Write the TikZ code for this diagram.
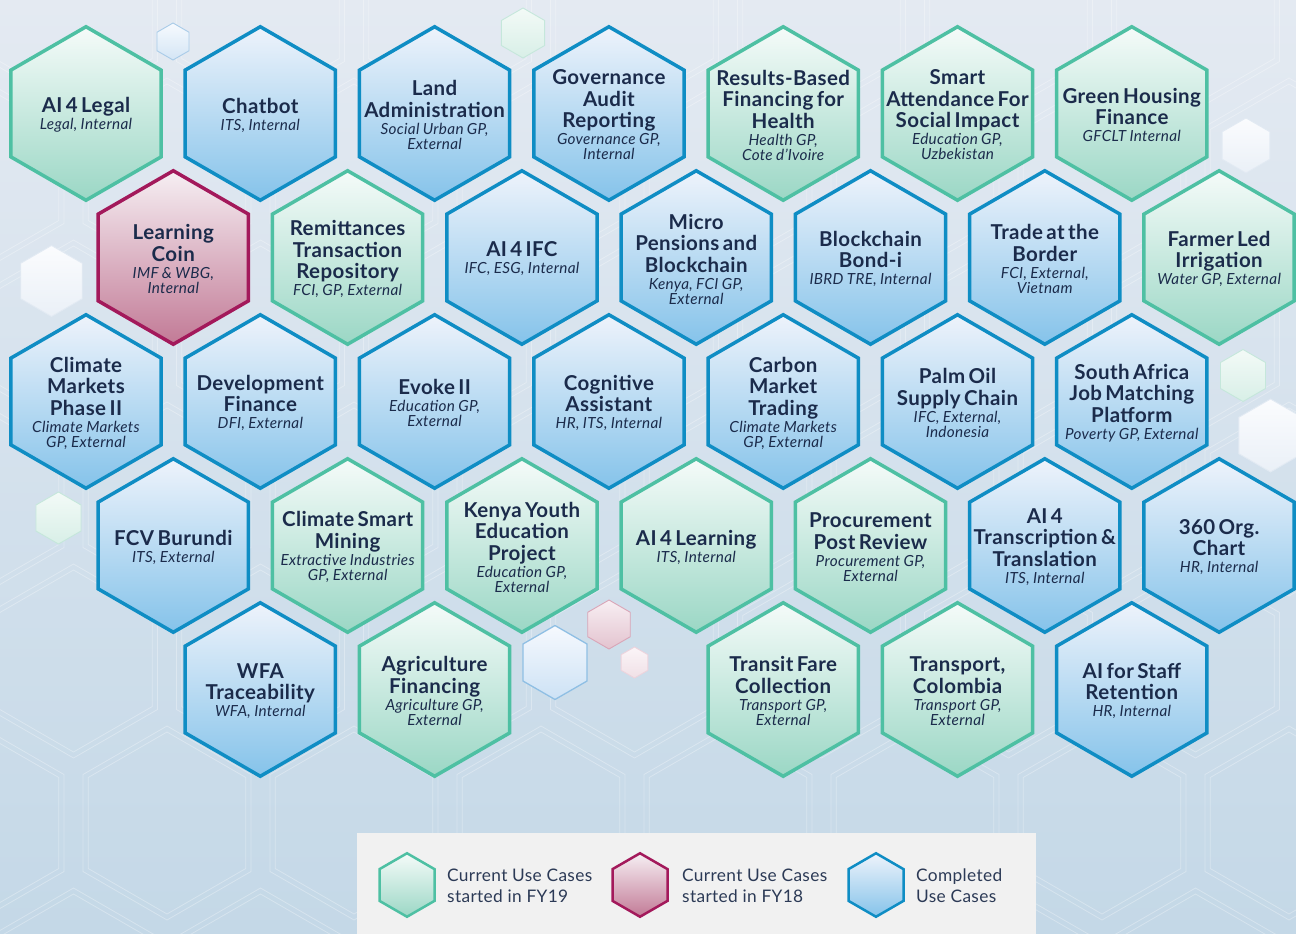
\documentclass[tikz,border=0pt]{standalone}
\usepackage{fontspec}
\setmainfont{Lato}[LetterSpace=2]
\usetikzlibrary{shapes.geometric}
\definecolor{bgtop}{HTML}{E4EAF2}
\definecolor{bgbot}{HTML}{C4D8E7}
\definecolor{grnB}{HTML}{4EC0A3}
\definecolor{grnT}{HTML}{F5FBF9}
\definecolor{grnD}{HTML}{9BD7C5}
\definecolor{bluB}{HTML}{0F8DC4}
\definecolor{bluT}{HTML}{EEF3FB}
\definecolor{bluD}{HTML}{85C3EA}
\definecolor{redB}{HTML}{A3195B}
\definecolor{redT}{HTML}{F6EFF3}
\definecolor{redD}{HTML}{C27A96}
\definecolor{txtc}{HTML}{1B2B4B}
\definecolor{legtxt}{HTML}{2C3A56}
\definecolor{legbg}{HTML}{F1F1F1}
% decorative colours
\definecolor{dbB}{HTML}{A8CBE8}\definecolor{dbT}{HTML}{F7FAFE}\definecolor{dbD}{HTML}{D3E5F5}
\definecolor{dgB}{HTML}{C5E7DB}\definecolor{dgT}{HTML}{F3FAF7}\definecolor{dgD}{HTML}{D8EFE7}
\definecolor{dwB}{HTML}{E2EAF3}\definecolor{dwT}{HTML}{FBFCFE}\definecolor{dwD}{HTML}{EAF0F7}
\definecolor{dpB}{HTML}{D9A5B7}\definecolor{dpT}{HTML}{F8EFF3}\definecolor{dpD}{HTML}{E3C3CF}
\definecolor{dlB}{HTML}{EDD3DC}\definecolor{dlT}{HTML}{FBF5F8}\definecolor{dlD}{HTML}{F0E0E6}
\definecolor{dkB}{HTML}{8FBFE4}\definecolor{dkT}{HTML}{F6F9FE}\definecolor{dkD}{HTML}{CDE2F5}
\newcommand\TtlFont{\fontsize{20.5}{21.5}\selectfont\bfseries}
\newcommand\SubFont{\fontsize{15.3}{15}\selectfont\itshape}
\tikzset{
  hexbase/.style={regular polygon, regular polygon sides=6, shape border rotate=30, inner sep=0pt, outer sep=0pt},
  bighex/.style={hexbase, minimum size=173.5pt, line width=3.5pt},
  greenhex/.style={draw=grnB, top color=grnT, bottom color=grnD},
  bluehex/.style={draw=bluB, top color=bluT, bottom color=bluD},
  redhex/.style={draw=redB, top color=redT, bottom color=redD},
  hextext/.style={text width=170pt, align=center, text=txtc, inner sep=0pt},
  bgline/.style={draw=white, draw opacity=0.3, line width=0.8pt},
  legtext/.style={anchor=west, align=left, inner sep=0pt, text=legtxt, font=\fontsize{17.3}{21}\selectfont},
  decohex/.style={hexbase, line width=0.9pt},
  dblue/.style={decohex, draw=dbB, top color=dbT, bottom color=dbD},
  dgreen/.style={decohex, draw=dgB, top color=dgT, bottom color=dgD},
  dwhite/.style={decohex, draw=dwB, top color=dwT, bottom color=dwD},
  dpink/.style={decohex, draw=dpB, top color=dpT, bottom color=dpD},
  dlpink/.style={decohex, draw=dlB, top color=dlT, bottom color=dlD},
  dkblue/.style={decohex, line width=1.3pt, draw=dkB, top color=dkT, bottom color=dkD}
}
\newcommand\HexCell[6]{%
  \node[bighex,#4] (#1) at (#2,#3) {};
  \node[hextext] (#1-t) at (#2,#3+1.5) {{\TtlFont #5\par}\vspace{2pt}{\SubFont #6\par}};
}
\begin{document}
\begin{tikzpicture}[x=1pt,y=-1pt]
\useasboundingbox (0,0) rectangle (1296,934);
\fill[top color=bgtop, bottom color=bgbot] (0,0) rectangle (1296,934);
\begin{scope}
\clip (0,0) rectangle (1296,934);
\foreach \j in {-1,...,6}{
  \foreach \i in {-1,...,7}{
    \pgfmathsetmacro\px{167+187*\i-93.5*mod(\j,2)}
    \pgfmathsetmacro\py{823-162*\j}
    \draw[bgline, shift={(\px,\py)}] (30:97)--(90:97)--(150:97)--(210:97)--(270:97)--(330:97)--cycle;
    \draw[bgline, shift={(\px,\py)}] (30:91)--(90:91)--(150:91)--(210:91)--(270:91)--(330:91)--cycle;
  }
}
\end{scope}
% decorative small hexagons
\node[dblue, minimum size=37pt] (d1) at (173,41.5) {};
\node[dgreen, minimum size=50pt] (d2) at (523,33) {};
\node[dwhite, minimum size=71pt] (d3) at (51.5,281) {};
\node[dwhite, minimum size=55pt] (d4) at (1246,145.5) {};
\node[dgreen, minimum size=52pt] (d5) at (1243,375.5) {};
\node[dwhite, minimum size=73pt] (d6) at (1270.5,435.5) {};
\node[dgreen, minimum size=52pt] (d7) at (58.5,518) {};
\node[dpink, minimum size=49pt] (d8) at (609,624.5) {};
\node[dkblue, minimum size=74pt] (d9) at (555,662.5) {};
\node[dlpink, minimum size=31pt] (d10) at (634.5,662.5) {};
% row 1
\HexCell{legal}{86}{113.5}{greenhex}{AI 4 Legal}{Legal, Internal}
\HexCell{chatbot}{260.3}{113.5}{bluehex}{Chatbot}{ITS, Internal}
\HexCell{land}{434.6}{113.5}{bluehex}{Land\\Administration}{Social Urban GP,\\External}
\HexCell{gov}{608.9}{113.5}{bluehex}{Governance\\Audit\\Reporting}{Governance GP,\\Internal}
\HexCell{rbf}{783.2}{113.5}{greenhex}{Results-Based\\Financing for\\Health}{Health GP,\\Cote d’Ivoire}
\HexCell{smart}{957.5}{113.5}{greenhex}{Smart\\Attendance For\\Social Impact}{Education GP,\\Uzbekistan}
\HexCell{housing}{1131.8}{113.5}{greenhex}{Green Housing\\Finance}{GFCLT Internal}
% row 2
\HexCell{coin}{173.3}{257.5}{redhex}{Learning\\Coin}{IMF \& WBG,\\Internal}
\HexCell{remit}{347.6}{257.5}{greenhex}{Remittances\\Transaction\\Repository}{FCI, GP, External}
\HexCell{aiifc}{521.9}{257.5}{bluehex}{AI 4 IFC}{IFC, ESG, Internal}
\HexCell{micro}{696.2}{257.5}{bluehex}{Micro\\Pensions and\\Blockchain}{Kenya, FCI GP,\\External}
\HexCell{bondi}{870.5}{257.5}{bluehex}{Blockchain\\Bond-i}{IBRD TRE, Internal}
\HexCell{trade}{1044.8}{257.5}{bluehex}{Trade at the\\Border}{FCI, External,\\Vietnam}
\HexCell{farmer}{1219.1}{257.5}{greenhex}{Farmer Led\\Irrigation}{Water GP, External}
% row 3
\HexCell{climate}{86}{401.5}{bluehex}{Climate\\Markets\\Phase II}{Climate Markets\\GP, External}
\HexCell{devfin}{260.3}{401.5}{bluehex}{Development\\Finance}{DFI, External}
\HexCell{evoke}{434.6}{401.5}{bluehex}{Evoke II}{Education GP,\\External}
\HexCell{cogn}{608.9}{401.5}{bluehex}{Cognitive\\Assistant}{HR, ITS, Internal}
\HexCell{carbon}{783.2}{401.5}{bluehex}{Carbon\\Market\\Trading}{Climate Markets\\GP, External}
\HexCell{palm}{957.5}{401.5}{bluehex}{Palm Oil\\Supply Chain}{IFC, External,\\Indonesia}
\HexCell{safrica}{1131.8}{401.5}{bluehex}{South Africa\\Job Matching\\Platform}{Poverty GP, External}
% row 4
\HexCell{fcv}{173.3}{545.5}{bluehex}{FCV Burundi}{ITS, External}
\HexCell{mining}{347.6}{545.5}{greenhex}{Climate Smart\\Mining}{Extractive Industries\\GP, External}
\HexCell{kenya}{521.9}{545.5}{greenhex}{Kenya Youth\\Education\\Project}{Education GP,\\External}
\HexCell{ailearn}{696.2}{545.5}{greenhex}{AI 4 Learning}{ITS, Internal}
\HexCell{procure}{870.5}{545.5}{greenhex}{Procurement\\Post Review}{Procurement GP,\\External}
\HexCell{transcr}{1044.8}{545.5}{bluehex}{AI 4\\Transcription \&\\Translation}{ITS, Internal}
\HexCell{orgchart}{1219.1}{545.5}{bluehex}{360 Org.\\Chart}{HR, Internal}
% row 5
\HexCell{wfa}{260.3}{689.5}{bluehex}{WFA\\Traceability}{WFA, Internal}
\HexCell{agri}{434.6}{689.5}{greenhex}{Agriculture\\Financing}{Agriculture GP,\\External}
\HexCell{transit}{783.2}{689.5}{greenhex}{Transit Fare\\Collection}{Transport GP,\\External}
\HexCell{colombia}{957.5}{689.5}{greenhex}{Transport,\\Colombia}{Transport GP,\\External}
\HexCell{staff}{1131.8}{689.5}{bluehex}{AI for Staff\\Retention}{HR, Internal}
% legend
\node[fill=legbg, minimum width=679pt, minimum height=101pt, anchor=north west, inner sep=0pt, outer sep=0pt] (legbox) at (357,833) {};
\node[hexbase, minimum size=63.5pt, line width=2.5pt, greenhex] (lg1) at (407,885) {};
\node[hexbase, minimum size=63.5pt, line width=2.5pt, redhex] (lg2) at (640,885) {};
\node[hexbase, minimum size=63.5pt, line width=2.5pt, bluehex] (lg3) at (876,885) {};
\node[legtext] (lg1t) at (447,886) {Current Use Cases\\started in FY19};
\node[legtext] (lg2t) at (682,886) {Current Use Cases\\started in FY18};
\node[legtext] (lg3t) at (916,886) {Completed\\Use Cases};
\end{tikzpicture}
\end{document}
